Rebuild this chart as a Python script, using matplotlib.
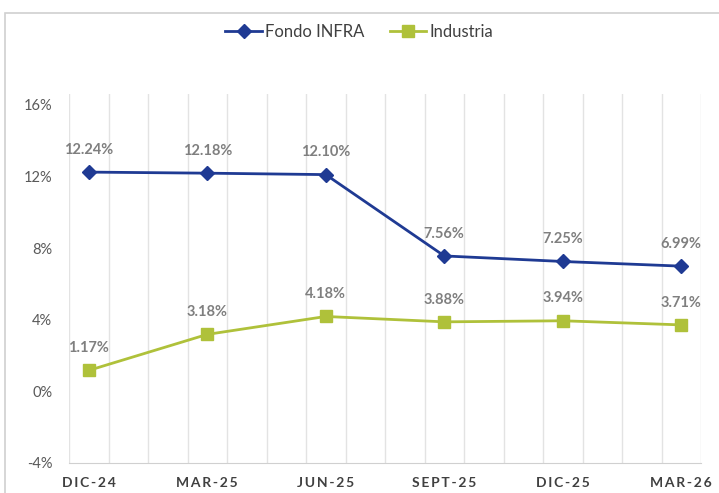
import matplotlib
matplotlib.use("Agg")
import matplotlib.pyplot as plt
from matplotlib.patches import Rectangle

# datos
periodos = ["DIC-24", "MAR-25", "JUN-25", "SEPT-25", "DIC-25", "MAR-26"]
fondo_infra = [12.24, 12.18, 12.10, 7.56, 7.25, 6.99]
industria = [1.17, 3.18, 4.18, 3.88, 3.94, 3.71]
y_ticks = [-4, 0, 4, 8, 12, 16]

azul = "#1F3A93"
verde = "#AFC13A"
gris = "#7F7F7F"

plt.rcParams['font.family'] = ['Lato', 'DejaVu Sans']

fig = plt.figure(figsize=(7.19, 4.93), dpi=100)
fig.patches.append(Rectangle((5 / 719, -0.01), 1.0, 1 - 13 / 493 + 0.01,
                             transform=fig.transFigure, fill=False,
                             edgecolor="#D0D0D0", linewidth=1.2))
ax = fig.add_axes([69 / 719, 1 - 463 / 493, 632 / 719, 369 / 493])

# eje mensual: cada trimestre en el centro de su mes
x = [3 * i + 0.5 for i in range(len(periodos))]

ax.plot(x, fondo_infra, color=azul, lw=2, marker="D", ms=7, label="Fondo INFRA", zorder=3)
ax.plot(x, industria, color=verde, lw=2, marker="s", ms=8, label="Industria", zorder=3)

for xi, v in zip(x, fondo_infra):
    ax.annotate(f"{v:.2f}%", (xi, v), xytext=(0, 11), textcoords="offset points",
                ha="center", va="bottom", color=gris, fontsize=10.5, fontweight="bold")
for xi, v in zip(x, industria):
    ax.annotate(f"{v:.2f}%", (xi, v), xytext=(0, 11), textcoords="offset points",
                ha="center", va="bottom", color=gris, fontsize=10.5, fontweight="bold")

ax.set_xlim(0, 16)
ax.set_ylim(-4, 16.6)
ax.set_xticks(range(17), minor=True)
ax.grid(True, which="minor", axis="x", color="#E3E3E3", lw=1)
ax.set_xticks(x)
ax.set_xticklabels(["\u2009".join(p) for p in periodos], fontweight="bold",
                   color="#404040", fontsize=10)
ax.set_yticks(y_ticks)
ax.set_yticklabels([f"{t}%" for t in y_ticks], color="#595959", fontsize=10.5)
ax.tick_params(which="both", length=0)
ax.tick_params(axis="y", pad=12)
ax.tick_params(axis="x", pad=10)
for s in ["top", "right", "left"]:
    ax.spines[s].set_visible(False)
ax.spines["bottom"].set_color("#D0D0D0")

fig.legend(loc="center", bbox_to_anchor=(0.5, 1 - 32 / 493), ncol=2, frameon=False,
           fontsize=12, handlelength=2.2, columnspacing=1.5, handletextpad=0.2,
           labelcolor="#404040")

plt.savefig("out.png", dpi=100)
